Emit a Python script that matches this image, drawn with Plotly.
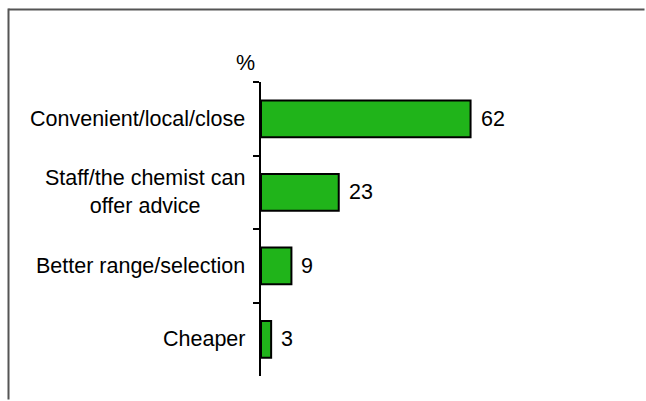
import plotly.graph_objects as go

# Reasons for choosing the chemist (%)
categories = ["Convenient/local/close", "Staff/the chemist can<br>offer advice",
              "Better range/selection", "Cheaper"]
values = [62, 23, 9, 3]

W, H = 646, 401
L, R, T, B = 261, 47, 82, 25
pw, ph = W - L - R, H - T - B

FONT = "Arial, Liberation Sans, sans-serif"
FS = 21.5

fig = go.Figure(go.Bar(
    x=values, y=categories, orientation="h", width=0.5,
    marker=dict(color="#20b41a", line=dict(color="black", width=2)),
    hoverinfo="skip",
))

annotations = []
# category labels, lines centred within each label block
for c in categories:
    annotations.append(dict(
        x=0, xref="paper", y=c, yref="y", xanchor="right", xshift=-14,
        align="center", text=c, showarrow=False,
        font=dict(family=FONT, size=FS, color="black"),
    ))
# value labels to the right of each bar
for c, v in zip(categories, values):
    annotations.append(dict(
        x=v, xref="x", y=c, yref="y", xanchor="left", xshift=8,
        text=str(v), showarrow=False,
        font=dict(family=FONT, size=FS, color="black"),
    ))
annotations.append(dict(
    x=0, xref="paper", y=1, yref="paper", xanchor="center", yanchor="middle",
    xshift=-16, yshift=19, text="%", showarrow=False,
    font=dict(family=FONT, size=FS, color="black"),
))


def px_to_paper_x(px):
    return (px - L) / pw


def px_to_paper_y(py):
    return (H - B - py) / ph


# outer frame: left and top edges, kept inside the page
frame = dict(color="#555555", width=2)
shapes = [
    dict(type="line", xref="paper", yref="paper",
         x0=px_to_paper_x(8.5), x1=px_to_paper_x(W - 1.5),
         y0=px_to_paper_y(9.5), y1=px_to_paper_y(9.5), line=frame),
    dict(type="line", xref="paper", yref="paper",
         x0=px_to_paper_x(8.5), x1=px_to_paper_x(8.5),
         y0=px_to_paper_y(H - 1.5), y1=px_to_paper_y(8.5), line=frame),
]

fig.update_layout(
    width=W, height=H,
    margin=dict(l=L, r=R, t=T, b=B, pad=0),
    paper_bgcolor="white", plot_bgcolor="white",
    showlegend=False,
    annotations=annotations,
    shapes=shapes,
    xaxis=dict(range=[0, 100], visible=False, fixedrange=True),
    yaxis=dict(
        type="category", categoryarray=categories, categoryorder="array",
        range=[3.5, -0.5], showticklabels=False,
        showline=True, linecolor="black", linewidth=2,
        ticks="outside", tickson="boundaries", ticklen=6, tickwidth=2,
        tickcolor="black", showgrid=False, zeroline=False, fixedrange=True,
    ),
)

fig.write_html("out.html")
